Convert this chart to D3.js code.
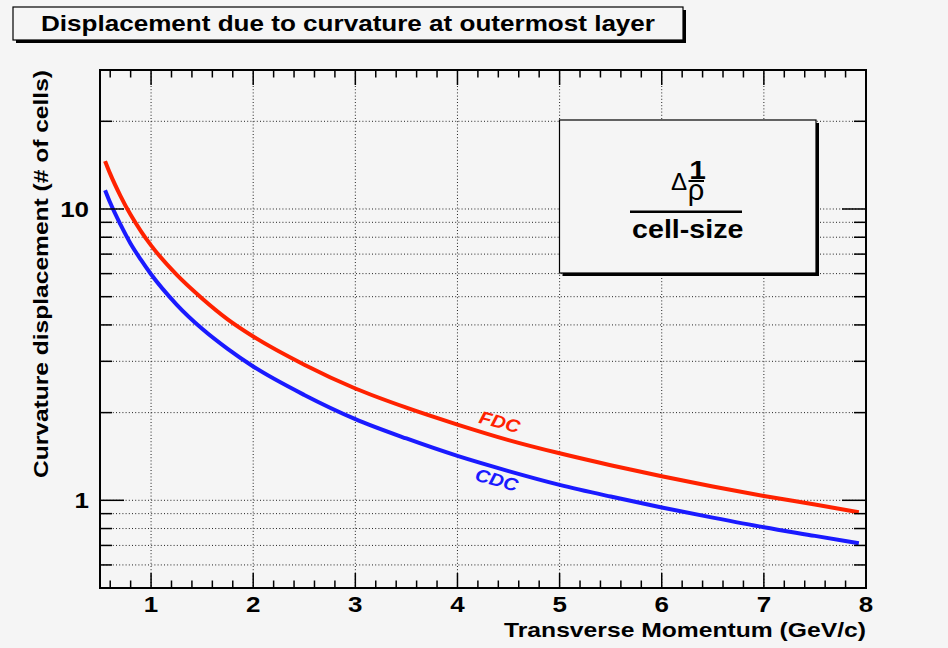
<!DOCTYPE html>
<html>
<head>
<meta charset="utf-8">
<script src="https://cdn.jsdelivr.net/npm/d3@7"></script>
<style>
  html, body { margin: 0; padding: 0; background: #f5f5f5; }
  svg { display: block; font-family: "Liberation Sans", Arial, Helvetica, sans-serif; }
</style>
</head>
<body>
<svg id="chart" width="948" height="648"></svg>
<script>
// values
const momentum = [0.55, 0.6, 0.7, 0.8, 0.9, 1.0, 1.25, 1.5, 1.75, 2.0, 2.5, 3.0, 3.5, 4.0, 4.5, 5.0, 5.5, 6.0, 6.5, 7.0, 7.5, 7.93];
const fdcCells = [14.6, 13.2, 11.1, 9.55, 8.4, 7.5, 5.95, 4.93, 4.18, 3.65, 2.92, 2.42, 2.08, 1.82, 1.61, 1.45, 1.32, 1.21, 1.115, 1.035, 0.967, 0.91];
const cdcCells = [11.6, 10.5, 8.85, 7.6, 6.7, 5.97, 4.7, 3.88, 3.31, 2.88, 2.3, 1.9, 1.63, 1.42, 1.26, 1.13, 1.03, 0.945, 0.872, 0.808, 0.755, 0.712];

const xMajorTicks = [1, 2, 3, 4, 5, 6, 7, 8];
const xTickLabels = ["1", "2", "3", "4", "5", "6", "7", "8"];
const yMajorTicks = [1, 10];
const yTickLabels = ["1", "10"];
const yMinorTicks = [0.6, 0.7, 0.8, 0.9, 2, 3, 4, 5, 6, 7, 8, 9, 20];

const titleText = "Displacement due to curvature at outermost layer";
const xTitle = "Transverse Momentum (GeV/c)";
const yTitle = "Curvature displacement (# of cells)";

const red = "#ff2200";
const blue = "#1a1aff";
const bg = "#f5f5f5";

const svg = d3.select("#chart");
const frame = { left: 100, right: 866, top: 70, bottom: 588 };

const x = d3.scaleLinear().domain([0.5, 8]).range([frame.left, frame.right]);
const y = d3.scaleLog().domain([0.5, 30]).range([frame.bottom, frame.top]);

// minor x ticks every 0.2
const xMinorTicks = d3.range(3, 40).map((i) => i / 5).filter((v) => Math.abs(v - Math.round(v)) > 1e-6);

svg.append("rect").attr("width", 948).attr("height", 648).attr("fill", bg);

function stretchText(parent, txt, tx, ty, o) {
  return parent.append("text")
    .attr("transform", `translate(${tx},${ty}) rotate(${o.rotate || 0}) scale(${o.sx || 1.18},1)`)
    .attr("text-anchor", o.anchor || "middle")
    .attr("font-size", o.size)
    .attr("font-weight", o.weight || "bold")
    .attr("font-style", o.style || "normal")
    .attr("fill", o.fill || "#000")
    .text(txt);
}

// grid
const grid = svg.append("g").attr("stroke", "#222").attr("stroke-width", 1).attr("stroke-dasharray", "1,2.2");
grid.selectAll("line.gx")
  .data(xMajorTicks.filter((d) => d < 8))
  .join("line")
  .attr("class", "gx")
  .attr("x1", (d) => x(d)).attr("x2", (d) => x(d))
  .attr("y1", frame.top).attr("y2", frame.bottom);
grid.selectAll("line.gy")
  .data(yMajorTicks.concat(yMinorTicks))
  .join("line")
  .attr("class", "gy")
  .attr("x1", frame.left).attr("x2", frame.right)
  .attr("y1", (d) => y(d)).attr("y2", (d) => y(d));

// curves
const line = d3.line()
  .x((d) => x(d[0]))
  .y((d) => y(d[1]))
  .curve(d3.curveMonotoneX);

const series = [
  { name: "FDC", values: fdcCells, color: red },
  { name: "CDC", values: cdcCells, color: blue },
];
svg.append("g")
  .selectAll("path")
  .data(series)
  .join("path")
  .attr("d", (s) => line(momentum.map((p, i) => [p, s.values[i]])))
  .attr("fill", "none")
  .attr("stroke", (s) => s.color)
  .attr("stroke-width", 4)
  .attr("stroke-linejoin", "round");

// ticks on all four sides
const ticks = svg.append("g").attr("stroke", "#000").attr("stroke-width", 1.5);
const xTickData = xMajorTicks.map((v) => ({ v, len: 15 })).concat(xMinorTicks.map((v) => ({ v, len: 7.5 })));
ticks.selectAll("line.xb")
  .data(xTickData)
  .join("line")
  .attr("class", "xb")
  .attr("x1", (d) => x(d.v)).attr("x2", (d) => x(d.v))
  .attr("y1", frame.bottom).attr("y2", (d) => frame.bottom - d.len);
ticks.selectAll("line.xt")
  .data(xTickData)
  .join("line")
  .attr("class", "xt")
  .attr("x1", (d) => x(d.v)).attr("x2", (d) => x(d.v))
  .attr("y1", frame.top).attr("y2", (d) => frame.top + d.len);
const yTickData = yMajorTicks.map((v) => ({ v, len: 24 })).concat(yMinorTicks.map((v) => ({ v, len: 12 })));
ticks.selectAll("line.yl")
  .data(yTickData)
  .join("line")
  .attr("class", "yl")
  .attr("x1", frame.left).attr("x2", (d) => frame.left + d.len)
  .attr("y1", (d) => y(d.v)).attr("y2", (d) => y(d.v));
ticks.selectAll("line.yr")
  .data(yTickData)
  .join("line")
  .attr("class", "yr")
  .attr("x1", frame.right).attr("x2", (d) => frame.right - d.len)
  .attr("y1", (d) => y(d.v)).attr("y2", (d) => y(d.v));

// frame
svg.append("rect")
  .attr("x", frame.left).attr("y", frame.top)
  .attr("width", frame.right - frame.left).attr("height", frame.bottom - frame.top)
  .attr("fill", "none").attr("stroke", "#000").attr("stroke-width", 2);

// tick labels
const labels = svg.append("g");
xMajorTicks.forEach((v, i) => stretchText(labels, xTickLabels[i], x(v), 612, { size: 22 }));
yMajorTicks.forEach((v, i) => stretchText(labels, yTickLabels[i], 89, y(v) + 8, { size: 22, anchor: "end" }));

// axis titles
stretchText(svg, xTitle, frame.right, 637, { size: 21, anchor: "end", sx: 1.175 });
stretchText(svg, yTitle, 48, frame.top, { size: 21, anchor: "end", rotate: -90, sx: 1.17 });

// series labels along the curves
stretchText(svg, "FDC", 498, 428, { size: 18, style: "italic", fill: red, rotate: 15, sx: 1.12 });
stretchText(svg, "CDC", 495, 486, { size: 18, style: "italic", fill: blue, rotate: 15, sx: 1.12 });

// title box
const tb = { x: 13, y: 7, w: 670, h: 33 };
svg.append("rect").attr("x", tb.x + 3).attr("y", tb.y + 3).attr("width", tb.w).attr("height", tb.h).attr("fill", "#000");
svg.append("rect").attr("x", tb.x).attr("y", tb.y).attr("width", tb.w).attr("height", tb.h)
  .attr("fill", bg).attr("stroke", "#000").attr("stroke-width", 1.2);
stretchText(svg, titleText, tb.x + tb.w / 2, 31, { size: 22, sx: 1.185 });

// formula box
const lb = { x: 559.5, y: 120, w: 256.5, h: 153 };
svg.append("rect").attr("x", lb.x + 3).attr("y", lb.y + 3).attr("width", lb.w).attr("height", lb.h).attr("fill", "#000");
svg.append("rect").attr("x", lb.x).attr("y", lb.y).attr("width", lb.w).attr("height", lb.h)
  .attr("fill", bg).attr("stroke", "#000").attr("stroke-width", 1.2);
const cx = lb.x + lb.w / 2;
stretchText(svg, "\u0394", 679, 190, { size: 23, weight: "normal", sx: 1.05 });
stretchText(svg, "1", 697.5, 178.5, { size: 26, sx: 1.15 });
svg.append("line").attr("x1", 688.5).attr("x2", 704).attr("y1", 181).attr("y2", 181).attr("stroke", "#000").attr("stroke-width", 2);
stretchText(svg, "\u03c1", 696, 200, { size: 29, weight: "normal", sx: 1.0 });
svg.append("line").attr("x1", 630).attr("x2", 742).attr("y1", 211.7).attr("y2", 211.7).attr("stroke", "#000").attr("stroke-width", 2.5);
stretchText(svg, "cell-size", cx, 237.5, { size: 26, sx: 1.1 });
</script>
</body>
</html>
